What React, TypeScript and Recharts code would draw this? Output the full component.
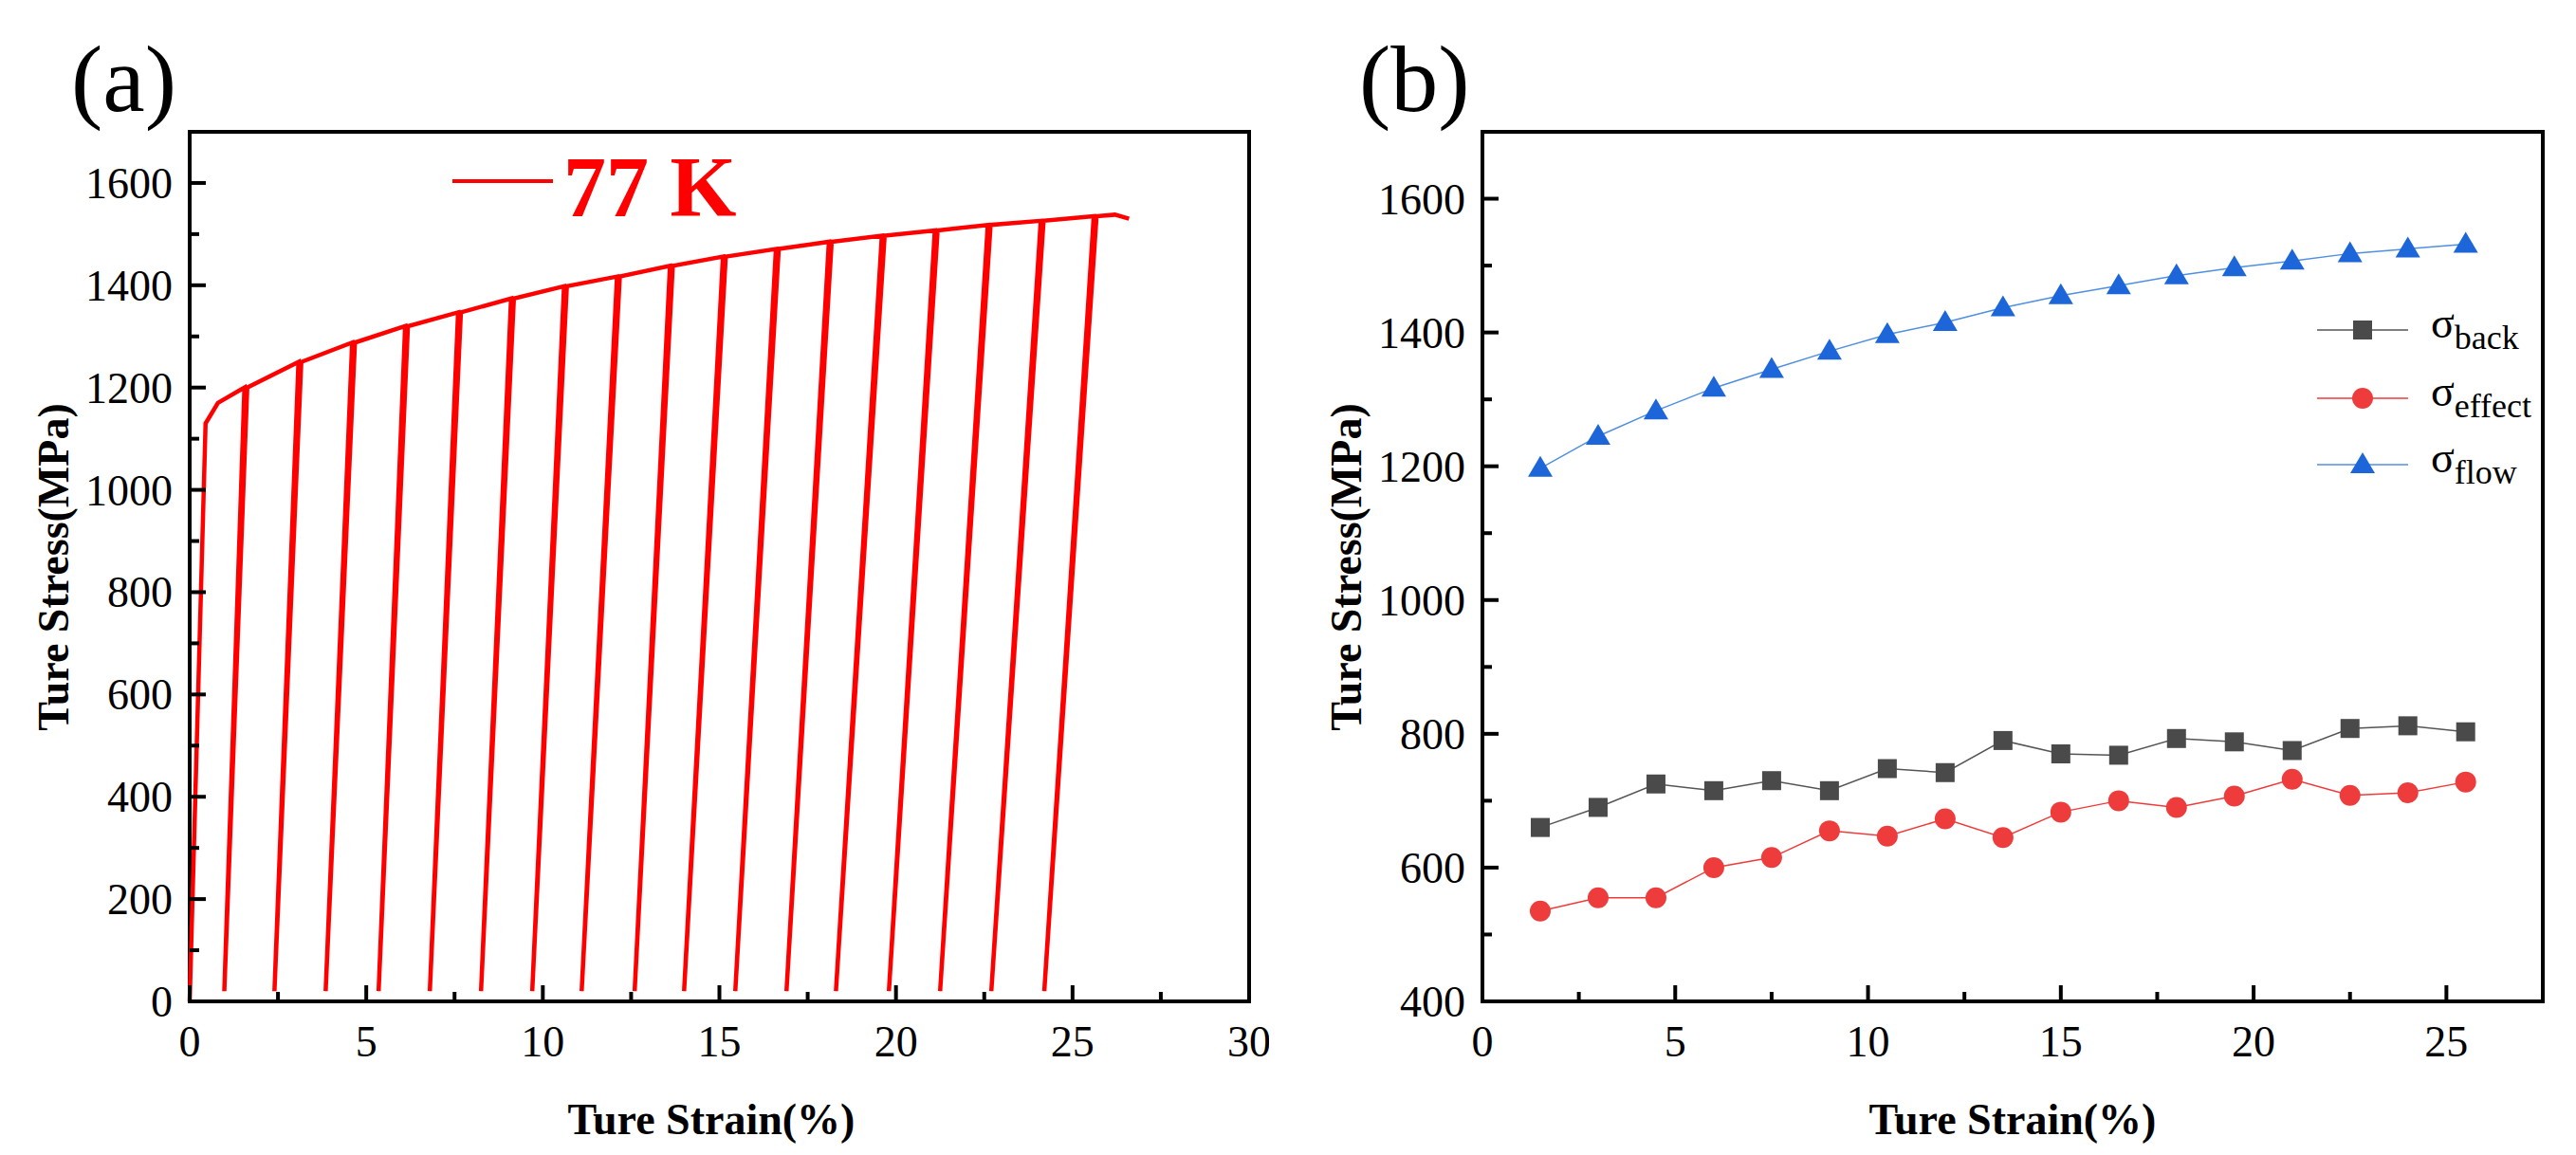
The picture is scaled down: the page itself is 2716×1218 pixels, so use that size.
import React from "react";
import { LineChart, Line, XAxis, YAxis, ReferenceArea } from "recharts";

// panel (a): cyclic loading-unloading at 77 K
const peakStrain = [1.55, 3.08, 4.6, 6.1, 7.6, 9.1, 10.6, 12.1, 13.6, 15.1, 16.6, 18.1, 19.6, 21.1, 22.6, 24.1, 25.6];
const peakStress = [1200, 1250, 1288, 1320, 1347, 1374, 1398, 1417, 1438, 1456, 1471, 1485, 1497, 1507, 1518, 1526, 1535];
const unloadStrain = [0.98, 2.4, 3.85, 5.35, 6.8, 8.25, 9.7, 11.1, 12.6, 14.0, 15.45, 16.9, 18.3, 19.8, 21.25, 22.7, 24.2];
const startCurve = [
  { x: 0, y: 0 },
  { x: 0.45, y: 1130 },
  { x: 0.8, y: 1170 },
];
const endCurve = [
  { x: 26.2, y: 1538 },
  { x: 26.6, y: 1530 },
];

// panel (b)
const strainB = [1.5, 3, 4.5, 6, 7.5, 9, 10.5, 12, 13.5, 15, 16.5, 18, 19.5, 21, 22.5, 24, 25.5];
const sBack = [660, 690, 725, 715, 730, 715, 748, 742, 790, 770, 768, 793, 788, 775, 808, 812, 803];
const sEffect = [535, 555, 555, 600, 615, 655, 647, 673, 645, 683, 700, 690, 707, 732, 708, 712, 728];
const sFlow = [1197, 1245, 1283, 1317, 1345, 1372, 1397, 1415, 1437, 1455, 1470, 1485, 1497, 1507, 1518, 1525, 1532];

const xTicksA = [0, 2.5, 5, 7.5, 10, 12.5, 15, 17.5, 20, 22.5, 25, 27.5, 30];
const yTicksA = Array.from({ length: 17 }, (_, i) => i * 100);
const xTicksB = [0, 2.5, 5, 7.5, 10, 12.5, 15, 17.5, 20, 22.5, 25, 27.5];
const yTicksB = Array.from({ length: 13 }, (_, i) => 400 + i * 100);

const curveA: { x: number; y: number }[] = [...startCurve];
peakStrain.forEach((p, i) => {
  curveA.push({ x: p, y: peakStress[i] });
  curveA.push({ x: unloadStrain[i], y: 20 });
  curveA.push({ x: p + 0.08, y: peakStress[i] });
});
curveA.push(...endCurve);

const dataB = strainB.map((x, i) => ({ x, back: sBack[i], effect: sEffect[i], flow: sFlow[i] }));

const FONT = "Liberation Serif";
const PLOT_TOP = 131;
const PLOT_BOTTOM = 1048;
const X_AXIS_H = 100;

const makeXTick = (major: number) => (props: any) => {
  const { x, payload } = props;
  const isMajor = Math.abs(payload.value % major) < 1e-6;
  return (
    <g>
      <line x1={x} x2={x} y1={PLOT_BOTTOM} y2={PLOT_BOTTOM - (isMajor ? 17 : 10)} stroke="#000" strokeWidth={4} />
      {isMajor && (
        <text x={x} y={PLOT_BOTTOM + 58} textAnchor="middle" fontSize={46} fontFamily={FONT} fill="#000">
          {payload.value}
        </text>
      )}
    </g>
  );
};

const makeYTick = (major: number, left: number) => (props: any) => {
  const { y, payload } = props;
  const isMajor = Math.abs(payload.value % major) < 1e-6;
  return (
    <g>
      <line x1={left} x2={left + (isMajor ? 17 : 10)} y1={y} y2={y} stroke="#000" strokeWidth={4} />
      {isMajor && (
        <text x={left - 18} y={y + 16} textAnchor="end" fontSize={46} fontFamily={FONT} fill="#000">
          {payload.value}
        </text>
      )}
    </g>
  );
};

const Square = (props: any) => {
  const { cx, cy } = props;
  return <rect x={cx - 10} y={cy - 10} width={20} height={20} fill="#4a4a4a" />;
};
const Circle = (props: any) => {
  const { cx, cy } = props;
  return <circle cx={cx} cy={cy} r={11} fill="#ee3b3b" />;
};
const Tri = (props: any) => {
  const { cx, cy } = props;
  return <polygon points={`${cx},${cy - 13} ${cx - 13},${cy + 9} ${cx + 13},${cy + 9}`} fill="#1c66d9" />;
};

const abs = (left: number, top: number, extra: React.CSSProperties = {}): React.CSSProperties => ({
  position: "absolute",
  left,
  top,
  fontFamily: FONT,
  lineHeight: 1,
  whiteSpace: "nowrap",
  ...extra,
});

const legendRows = [
  { label: "back", color: "#555", Marker: Square, y: 340 },
  { label: "effect", color: "#ee3b3b", Marker: Circle, y: 412 },
  { label: "flow", color: "#4f8fe0", Marker: Tri, y: 482 },
];

export default function App() {
  return (
    <div style={{ position: "relative", width: 2700, height: 1210, background: "#fff", fontFamily: FONT }}>
      <div style={{ position: "absolute", left: 0, top: 0 }}>
        <LineChart width={1330} height={PLOT_BOTTOM + X_AXIS_H} data={curveA} margin={{ top: PLOT_TOP, right: 21, bottom: 0, left: 0 }}>
          <XAxis dataKey="x" type="number" domain={[0, 30]} ticks={xTicksA} tick={makeXTick(5)} tickLine={false} axisLine={false} height={X_AXIS_H} interval={0} />
          <YAxis type="number" domain={[0, 1700]} ticks={yTicksA} tick={makeYTick(200, 192)} tickLine={false} axisLine={false} width={192} interval={0} />
          <ReferenceArea x1={0} x2={30} y1={0} y2={1700} fill="none" stroke="#000" strokeWidth={4} ifOverflow="visible" />
          <Line dataKey="y" stroke="#ff0000" strokeWidth={4.5} dot={false} isAnimationActive={false} />
        </LineChart>
      </div>

      <div style={{ position: "absolute", left: 1300, top: 0 }}>
        <LineChart width={1393} height={PLOT_BOTTOM + X_AXIS_H} data={dataB} margin={{ top: PLOT_TOP, right: 20, bottom: 0, left: 0 }}>
          <XAxis dataKey="x" type="number" domain={[0, 27.5]} ticks={xTicksB} tick={makeXTick(5)} tickLine={false} axisLine={false} height={X_AXIS_H} interval={0} />
          <YAxis type="number" domain={[400, 1700]} ticks={yTicksB} tick={makeYTick(200, 255)} tickLine={false} axisLine={false} width={255} interval={0} />
          <ReferenceArea x1={0} x2={27.5} y1={400} y2={1700} fill="none" stroke="#000" strokeWidth={4} ifOverflow="visible" />
          <Line dataKey="back" stroke="#555" strokeWidth={1.5} dot={<Square />} isAnimationActive={false} />
          <Line dataKey="effect" stroke="#ee3b3b" strokeWidth={1.5} dot={<Circle />} isAnimationActive={false} />
          <Line dataKey="flow" stroke="#4f8fe0" strokeWidth={1.5} dot={<Tri />} isAnimationActive={false} />
        </LineChart>
      </div>

      {/* panel labels */}
      <div style={abs(67, 26, { fontSize: 100 })}>(a)</div>
      <div style={abs(1425, 26, { fontSize: 100 })}>(b)</div>

      {/* 77 K legend */}
      <div style={abs(469, 181, { width: 106, height: 4, background: "#ff0000" })} />
      <div style={abs(586, 145, { fontSize: 90, fontWeight: "bold", color: "#ff0000" })}>77 K</div>

      {/* legend (b) */}
      {legendRows.map(({ label, color, Marker, y }) => (
        <React.Fragment key={label}>
          <svg style={{ position: "absolute", left: 2435, top: y - 20 }} width={96} height={40}>
            <line x1={0} x2={96} y1={20} y2={20} stroke={color} strokeWidth={1.5} />
            <Marker cx={48} cy={20} />
          </svg>
          <div style={abs(2555, y - 30, { fontSize: 46 })}>
            σ<span style={{ fontSize: 36, position: "relative", top: 12 }}>{label}</span>
          </div>
        </React.Fragment>
      ))}

      {/* axis titles */}
      <div style={abs(742, 1150, { fontSize: 46, fontWeight: "bold", transform: "translateX(-50%)" })}>Ture Strain(%)</div>
      <div style={abs(2114, 1150, { fontSize: 46, fontWeight: "bold", transform: "translateX(-50%)" })}>Ture Strain(%)</div>
      <div style={abs(49, 590, { fontSize: 46, fontWeight: "bold", transform: "translate(-50%, -50%) rotate(-90deg)" })}>Ture Stress(MPa)</div>
      <div style={abs(1412, 590, { fontSize: 46, fontWeight: "bold", transform: "translate(-50%, -50%) rotate(-90deg)" })}>Ture Stress(MPa)</div>
    </div>
  );
}
